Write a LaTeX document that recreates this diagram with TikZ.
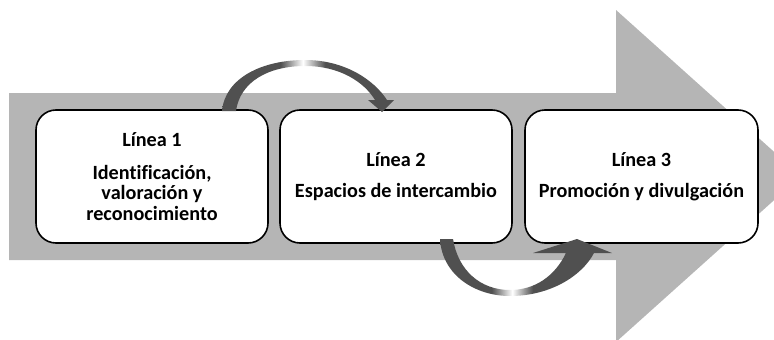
\documentclass[tikz,border=0pt]{standalone}
\usepackage{fontspec}
\setmainfont[Ligatures=NoCommon]{Carlito}
\definecolor{band}{RGB}{181,181,181}
\definecolor{arc}{RGB}{80,80,80}
\pgfdeclarehorizontalshading{arcA}{100bp}{color(0bp)=(arc); color(42bp)=(arc); color(48.5bp)=(white); color(55bp)=(arc); color(100bp)=(arc)}
\pgfdeclarehorizontalshading{arcB}{100bp}{color(0bp)=(arc); color(40bp)=(arc); color(46bp)=(white); color(52bp)=(arc); color(100bp)=(arc)}
\tikzset{
  linebox/.style={draw=black, line width=1.6pt, fill=white, rounded corners=20pt,
    minimum width=232pt, minimum height=133pt, align=center, inner sep=0pt,
    font=\fontsize{20.2}{20.3}\selectfont\bfseries},
}
\begin{document}
\begin{tikzpicture}[x=1pt,y=-1pt]
\useasboundingbox (0,0) rectangle (774,340);
\clip (0,0) rectangle (774,340);
% big arrow
\fill[band] (9,93) -- (616,93) -- (616,10) -- (801,176) -- (616,342) -- (616,260) -- (9,260) -- cycle;
% boxes
\node[linebox] (b1) at (152,176.5) {Línea 1\\[12.5pt]Identificación,\\valoración y\\reconocimiento};
\node[linebox] (b2) at (396,176.5) {Línea 2\\[11pt]Espacios de intercambio};
\node[linebox, minimum width=233pt] (b3) at (641.5,176.5) {Línea 3\\[11pt]Promoción y divulgación};
% top curved arrow
\shade[shading=arcA] (222,111) .. controls (225,78) and (262,60) .. (305,60)
  .. controls (345,60) and (374,80) .. (387,100) -- (394,100) -- (382,112) -- (368,100) -- (375,100)
  .. controls (364,82) and (340,66) .. (305,66)
  .. controls (268,66) and (240,82) .. (236,111) -- cycle;
% bottom curved arrow
\shade[shading=arcB] (440,239) .. controls (442,275) and (475,296) .. (510,296)
  .. controls (550,296) and (582,276) .. (594,253) -- (612,253) -- (577,239) -- (533,253) -- (566,253)
  .. controls (555,276) and (535,290) .. (510,290)
  .. controls (480,290) and (458,270) .. (453,239) -- cycle;
\end{tikzpicture}
\end{document}
